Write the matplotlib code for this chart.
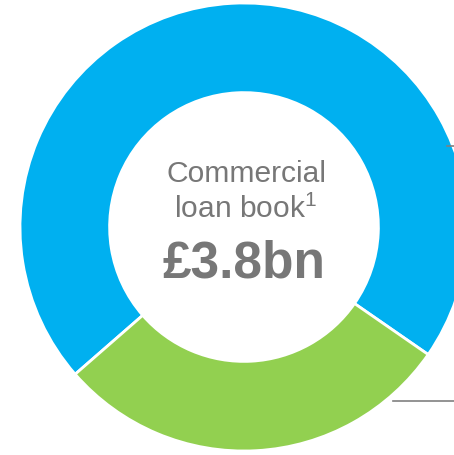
import matplotlib
matplotlib.use("Agg")
import matplotlib.pyplot as plt

plt.rcParams["mathtext.fontset"] = "custom"
plt.rcParams["mathtext.rm"] = "Liberation Sans"
plt.rcParams["mathtext.it"] = "Liberation Sans"
plt.rcParams["mathtext.bf"] = "Liberation Sans:bold"

# Commercial loan book split (£bn)
segments = ["Segment A", "Segment B"]
values_bn = [2.7, 1.1]
colors = ["#00B0F0", "#92D050"]
title_lines = ["Commercial", r"loan book$^{\mathrm{1}}$"]
total_label = "£3.8bn"

W, H = 454, 456
fig = plt.figure(figsize=(W / 100, H / 100), dpi=100)
ax = fig.add_axes([0, 0, 1, 1])

cx, cy, r = 244, 228, 224
ax.pie(values_bn, colors=colors, startangle=325.3, counterclock=True,
       center=(cx, cy), radius=r, frame=True,
       wedgeprops=dict(width=r * 0.40, edgecolor="white", linewidth=2))
ax.set_xlim(0, W)
ax.set_ylim(0, H)
ax.set_aspect("equal")
ax.axis("off")

# leader lines running off to the right
ax.plot([447, W], [H - 147, H - 147], color="#808080", lw=1.2)
ax.plot([393, W], [H - 402, H - 402], color="#808080", lw=1.2)

txt = "#777777"
font = ["Liberation Sans", "DejaVu Sans"]
ax.text(cx + 2, H - 174, title_lines[0], ha="center", va="center",
        fontsize=21.6, color=txt, family=font)
ax.text(cx + 2, H - 209, title_lines[1], ha="center", va="center",
        fontsize=21.6, color=txt, family=font)
ax.text(cx, H - 264, total_label, ha="center", va="center",
        fontsize=37, fontweight="bold", color=txt, family=font)

fig.savefig("out.png", dpi=100)
